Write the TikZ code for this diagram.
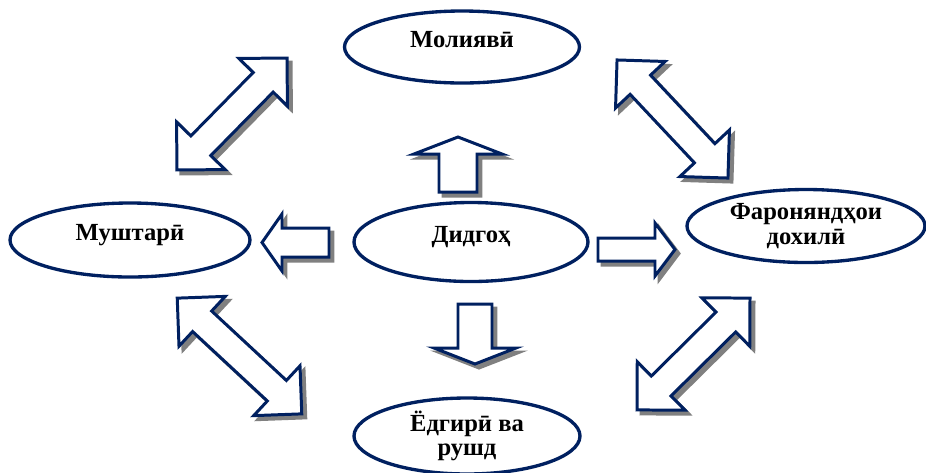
\documentclass[tikz,border=0pt]{standalone}
\usepackage{fontspec}
\setmainfont{Liberation Serif}
\usetikzlibrary{shapes.geometric}
\definecolor{navyline}{RGB}{0,32,96}
\definecolor{shadowgray}{RGB}{128,128,128}
\tikzset{
  oval/.style={ellipse, draw=navyline, line width=1.9pt, fill=white, inner sep=0pt,
    align=center, font=\bfseries\fontsize{14}{14}\selectfont},
  oneline/.style={text height=10pt, text depth=10pt},
  arrowbody/.style={draw=navyline, fill=white, line width=1.7pt},
  arrowshadow/.style={draw=shadowgray, fill=shadowgray, line width=1.7pt},
  % block arrow: tail at origin, tip at (#1,0)
  pics/onearrow/.style n args={4}{code={
    \path[pic actions] (0,-#2) -- (#1-#4,-#2) -- (#1-#4,-#3) -- (#1,0)
      -- (#1-#4,#3) -- (#1-#4,#2) -- (0,#2) -- cycle;
  }},
  % double block arrow centred at origin
  pics/twoarrow/.style n args={4}{code={
    \path[pic actions] (-#1/2,0) -- (-#1/2+#4,-#3) -- (-#1/2+#4,-#2) -- (#1/2-#4,-#2)
      -- (#1/2-#4,-#3) -- (#1/2,0) -- (#1/2-#4,#3) -- (#1/2-#4,#2)
      -- (-#1/2+#4,#2) -- (-#1/2+#4,#3) -- cycle;
  }},
}
\begin{document}
\begin{tikzpicture}[x=0.2mm,y=-0.2mm]
\useasboundingbox (0,0) rectangle (926,472);
% arrows from the centre
\foreach \ang/\px/\py/\len/\sh/\hd/\hl in {90/458/192/55/19/44/17, 180/329/242.5/67/14.5/28.5/20,
    0/598/249.5/77/11.5/26.5/20, -90/475/304/60/17/41/16}{
  \pic[arrowshadow, shift={(4,4)}, rotate=\ang] at (\px,\py) {onearrow={\len}{\sh}{\hd}{\hl}};
  \pic[arrowbody, rotate=\ang] at (\px,\py) {onearrow={\len}{\sh}{\hd}{\hl}};
}
% arrows between the outer ovals
\foreach \ang/\px/\py/\len in {45.5/232/114/157, -46.8/672.5/119/162,
    -42.9/239.5/356/170, 44.7/693.5/354/159}{
  \pic[arrowshadow, shift={(4,4)}, rotate=\ang] at (\px,\py) {twoarrow={\len}{14}{34}{34}};
  \pic[arrowbody, rotate=\ang] at (\px,\py) {twoarrow={\len}{14}{34}{34}};
}
% ovals
\node[oval, oneline, minimum width=47mm, minimum height=14.4mm] (fin) at (462,47) {Молиявӣ};
\node[oval, oneline, minimum width=48mm, minimum height=14.8mm] (cust) at (130,240) {Муштарӣ};
\node[oval, oneline, minimum width=46.8mm, minimum height=15.8mm] (strat) at (471,242) {Дидгоҳ};
\node[oval, minimum width=47.6mm, minimum height=14.6mm] (proc) at (806,226) {Фароняндҳои\\дохилӣ};
\node[oval, minimum width=45.2mm, minimum height=15.2mm] (learn) at (467,436) {Ёдгирӣ ва\\рушд};
\end{tikzpicture}
\end{document}
